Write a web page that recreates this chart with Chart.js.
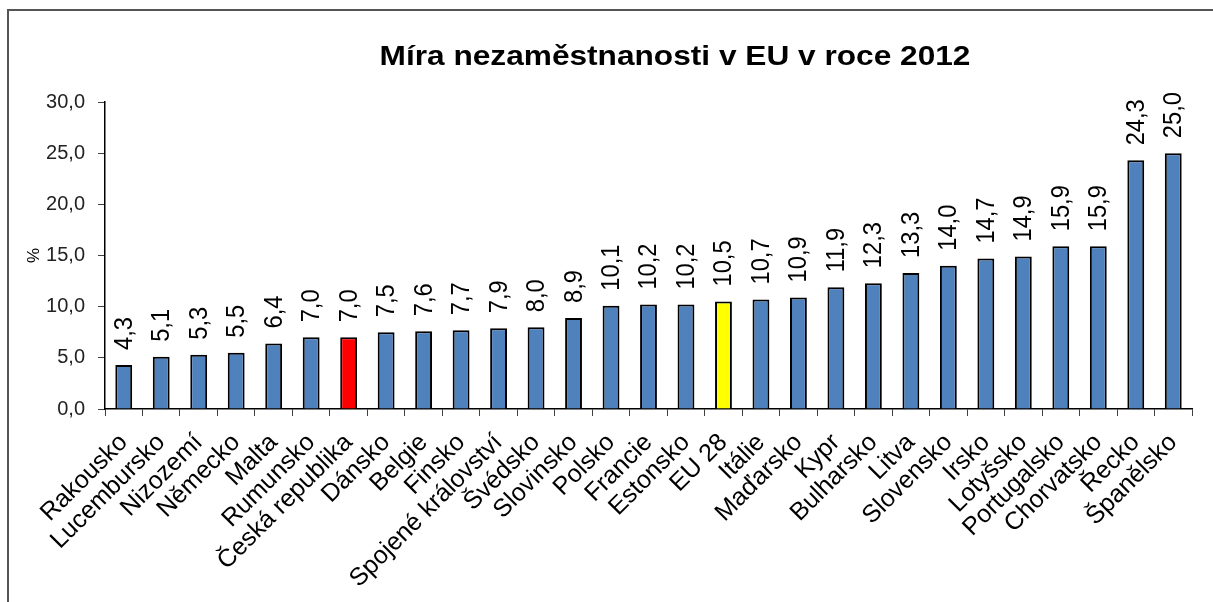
<!DOCTYPE html>
<html>
<head>
<meta charset="utf-8">
<script src="https://cdn.jsdelivr.net/npm/chart.js@4/dist/chart.umd.min.js"></script>
<style>
  html, body { margin: 0; padding: 0; background: #fff; }
  #wrap { width: 1213px; height: 602px; position: relative; }
</style>
</head>
<body>
<div id="wrap"><canvas id="chart" width="1213" height="602"></canvas></div>
<script>
const chartTitle = "Míra nezaměstnanosti v EU v roce 2012";
const countries = [
  "Rakousko", "Lucembursko", "Nizozemí", "Německo", "Malta", "Rumunsko",
  "Česká republika", "Dánsko", "Belgie", "Finsko", "Spojené království",
  "Švédsko", "Slovinsko", "Polsko", "Francie", "Estonsko", "EU 28", "Itálie",
  "Maďarsko", "Kypr", "Bulharsko", "Litva", "Slovensko", "Irsko", "Lotyšsko",
  "Portugalsko", "Chorvatsko", "Řecko", "Španělsko"
];
const unemployment = [
  4.3, 5.1, 5.3, 5.5, 6.4, 7.0, 7.0, 7.5, 7.6, 7.7, 7.9, 8.0, 8.9, 10.1,
  10.2, 10.2, 10.5, 10.7, 10.9, 11.9, 12.3, 13.3, 14.0, 14.7, 14.9, 15.9,
  15.9, 24.3, 25.0
];
const yTicks = [0, 5, 10, 15, 20, 25, 30];

const FONT = "'Liberation Sans', Arial, sans-serif";
const fmt = (v) => v.toFixed(1).replace(".", ",");

const barColors = countries.map((c) =>
  c === "Česká republika" ? "#ff0000" : c === "EU 28" ? "#ffff00" : "#4f81bd"
);

// white background + the grey frame (left and top edge only)
const framePlugin = {
  id: "frame",
  beforeDraw(chart) {
    const ctx = chart.ctx;
    ctx.save();
    ctx.fillStyle = "#fff";
    ctx.fillRect(0, 0, chart.width, chart.height);
    ctx.strokeStyle = "#555";
    ctx.lineWidth = 2;
    ctx.beginPath();
    ctx.moveTo(8, chart.height);
    ctx.lineTo(8, 10);
    ctx.lineTo(chart.width, 10);
    ctx.stroke();
    ctx.restore();
  },
  afterDraw(chart) {
    // title, slightly widened like the original export
    const ctx = chart.ctx;
    ctx.save();
    ctx.font = "bold 28px " + FONT;
    ctx.fillStyle = "#000";
    ctx.textAlign = "center";
    ctx.textBaseline = "alphabetic";
    ctx.translate(675, 65);
    ctx.scale(1.13, 1);
    ctx.fillText(chartTitle, 0, 0);
    ctx.restore();
  },
};

const valueLabels = {
  id: "valueLabels",
  afterDatasetsDraw(chart) {
    const ctx = chart.ctx;
    const meta = chart.getDatasetMeta(0);
    ctx.save();
    ctx.font = "23px " + FONT;
    ctx.fillStyle = "#000";
    ctx.textAlign = "left";
    ctx.textBaseline = "middle";
    meta.data.forEach((bar, i) => {
      ctx.save();
      ctx.translate(bar.x + 1, bar.y - 15);
      ctx.rotate(-Math.PI / 2);
      ctx.scale(1.03, 1.1);
      ctx.fillText(fmt(unemployment[i]), 0, 0);
      ctx.restore();
    });
    ctx.restore();
  },
};

new Chart(document.getElementById("chart"), {
  type: "bar",
  data: {
    labels: countries,
    datasets: [
      {
        data: unemployment,
        backgroundColor: barColors,
        borderColor: "#000",
        borderWidth: 2,
        barPercentage: 0.45,
        categoryPercentage: 1,
      },
    ],
  },
  options: {
    responsive: false,
    animation: false,
    layout: { padding: { left: 0, right: 21, top: 102, bottom: 0 } },
    plugins: {
      legend: { display: false },
      tooltip: { enabled: false },
      title: { display: false },
    },
    scales: {
      x: {
        grid: { drawOnChartArea: false, drawTicks: true, tickLength: 7, color: "#404040", offset: true },
        border: { color: "#000", width: 1.5 },
        ticks: {
          color: "#000",
          maxRotation: 45,
          minRotation: 45,
          autoSkip: false,
          padding: 12,
          font: { family: FONT, size: 25 },
        },
        afterFit(scale) { scale.height = 193; },
      },
      y: {
        min: 0,
        max: 30,
        afterBuildTicks(scale) { scale.ticks = yTicks.map((v) => ({ value: v })); },
        grid: { drawOnChartArea: false, drawTicks: true, tickLength: 7, color: "#404040" },
        border: { color: "#000", width: 1.5 },
        ticks: {
          color: "#222",
          padding: 13,
          font: { family: FONT, size: 20 },
          callback: (v) => fmt(v),
        },
        title: {
          display: true,
          text: "%",
          color: "#000",
          font: { family: FONT, size: 17 },
          padding: { top: 24, bottom: 0 },
        },
        afterFit(scale) { scale.width = 105; },
      },
    },
  },
  plugins: [framePlugin, valueLabels],
});
</script>
</body>
</html>
